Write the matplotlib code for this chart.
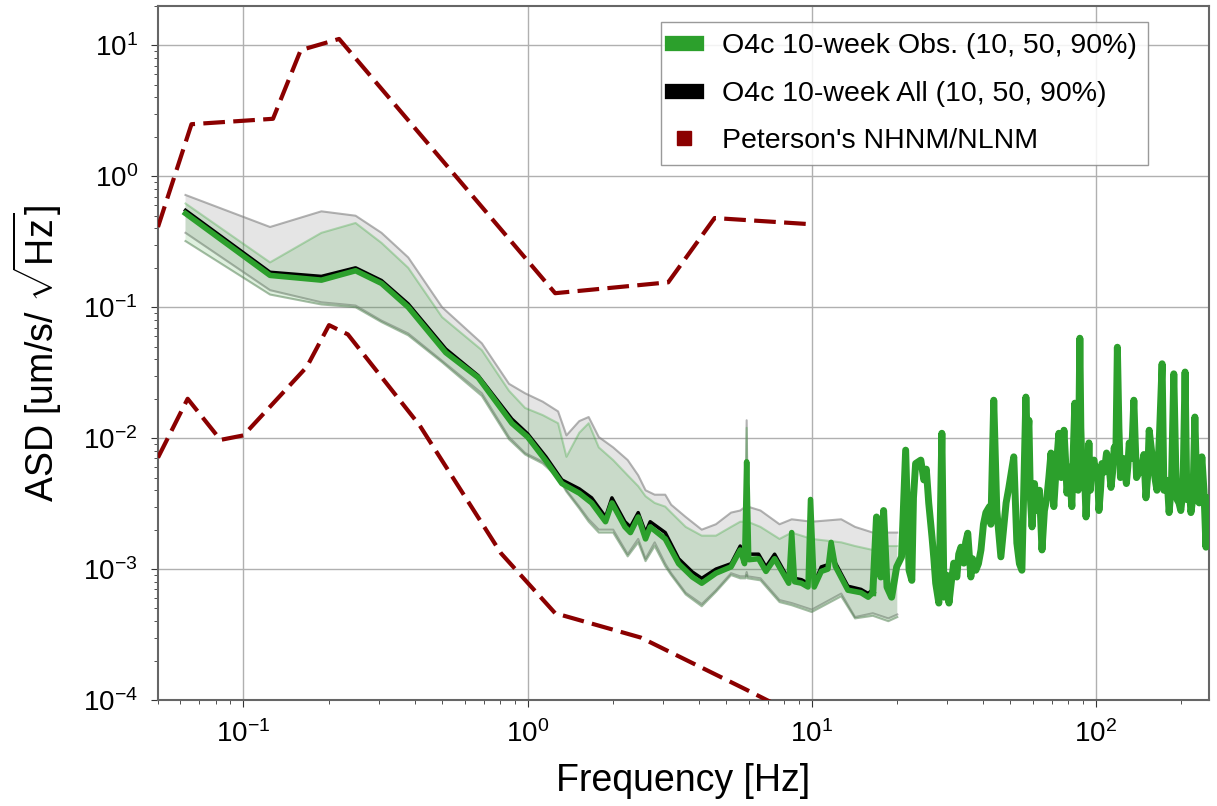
import numpy as np
import matplotlib
matplotlib.use("Agg")
from matplotlib import pyplot as plt
from matplotlib.lines import Line2D

plt.rcParams['font.family'] = ['Liberation Sans', 'DejaVu Sans']
plt.rcParams['mathtext.fontset'] = 'custom'
plt.rcParams['mathtext.rm'] = 'Liberation Sans'
plt.rcParams['mathtext.it'] = 'Liberation Sans:italic'
plt.rcParams['mathtext.bf'] = 'Liberation Sans:bold'

# Peterson noise models (velocity, um/s/rtHz)
nhnm_f = [0.05, 0.0656, 0.127, 0.159, 0.217, 1.25, 3.125, 4.55, 10.0]
nhnm_v = [0.41, 2.5, 2.75, 9.2, 11.2, 0.128, 0.155, 0.48, 0.43]
nlnm_f = [0.05, 0.0636, 0.083, 0.1, 0.167, 0.2, 0.233, 0.417, 0.806, 1.25, 2.5, 5.88, 10.0]
nlnm_v = [0.0071, 0.020, 0.0097, 0.0105, 0.035, 0.073, 0.062, 0.0125, 0.00132, 0.00046, 0.0003, 0.00012, 0.000067]

# 10% / 90% percentile bands
band_f = [0.0625, 0.124, 0.188, 0.248, 0.306, 0.38, 0.50, 0.69, 0.86, 0.98,
          1.13, 1.28, 1.37, 1.52, 1.64, 1.78, 2.0, 2.25, 2.45, 2.6,
          2.8, 3.05, 3.2, 3.6, 4.1, 4.6, 5.2, 5.6, 5.85, 5.9,
          5.95, 6.6, 7.7, 8.5, 10.0, 12.7, 14.2, 16.4, 18.6, 20.0]
all_hi = [0.72, 0.41, 0.54, 0.50, 0.37, 0.24, 0.10, 0.053, 0.026, 0.022,
          0.019, 0.016, 0.0105, 0.0135, 0.0145, 0.0102, 0.0085, 0.0068, 0.0052, 0.0040,
          0.0037, 0.0037, 0.0031, 0.0025, 0.0020, 0.0022, 0.0027, 0.0028, 0.0030, 0.0137,
          0.0030, 0.0028, 0.0022, 0.0024, 0.0023, 0.0024, 0.0021, 0.0019, 0.0019, 0.0019]
all_lo = [0.37, 0.135, 0.109, 0.103, 0.079, 0.063, 0.039, 0.022, 0.0102, 0.0077,
          0.0066, 0.0052, 0.0040, 0.0030, 0.0024, 0.0020, 0.0020, 0.0013, 0.0017, 0.0012,
          0.0016, 0.0011, 0.00093, 0.00066, 0.00054, 0.00069, 0.00093, 0.00088, 0.00088, 0.00095,
          0.00088, 0.00085, 0.00058, 0.00055, 0.00049, 0.00065, 0.00043, 0.00046, 0.00042, 0.00045]
obs_hi = [0.62, 0.22, 0.37, 0.44, 0.31, 0.20, 0.084, 0.047, 0.023, 0.017,
          0.015, 0.013, 0.0072, 0.011, 0.013, 0.0085, 0.0068, 0.0052, 0.0043, 0.0036,
          0.0032, 0.0030, 0.0027, 0.0021, 0.0018, 0.0018, 0.0021, 0.0023, 0.0023, 0.0120,
          0.0023, 0.0021, 0.0017, 0.0019, 0.0017, 0.0016, 0.0015, 0.0014, 0.0015, 0.0015]
obs_lo = [0.32, 0.125, 0.105, 0.100, 0.077, 0.061, 0.038, 0.021, 0.0098, 0.0075,
          0.0064, 0.0050, 0.0039, 0.0029, 0.0023, 0.0019, 0.0019, 0.00125, 0.0016, 0.00115,
          0.0015, 0.00105, 0.0009, 0.00064, 0.00052, 0.00067, 0.0009, 0.00085, 0.00085, 0.0009,
          0.00085, 0.00082, 0.00056, 0.00053, 0.00047, 0.00062, 0.00042, 0.00044, 0.0004, 0.00043]

# medians, below ~16 Hz (both data sets)
med_f = [0.0625, 0.124, 0.188, 0.248, 0.306, 0.38, 0.515, 0.67, 0.88, 1.0,
         1.16, 1.32, 1.52, 1.68, 1.88, 1.98, 2.2, 2.3, 2.45, 2.6,
         2.7, 3.05, 3.4, 3.8, 4.1, 4.6, 5.2, 5.6, 5.8, 5.9,
         6.0, 6.5, 6.9, 7.4, 8.3, 8.5, 8.7, 9.2, 9.7, 9.9,
         10.2, 10.8, 11.4, 11.7, 12.1, 13.4, 14.9, 15.8, 16.4]
obs_med = [0.52, 0.175, 0.161, 0.19, 0.152, 0.10, 0.045, 0.029, 0.013, 0.0102,
           0.0067, 0.0045, 0.0038, 0.0032, 0.0023, 0.0032, 0.0021, 0.0019, 0.0025, 0.0017,
           0.0021, 0.0017, 0.0011, 0.00087, 0.00078, 0.00093, 0.00104, 0.0014, 0.0011, 0.0066,
           0.00118, 0.0012, 0.00096, 0.0012, 0.00078, 0.0019, 0.0008, 0.00078, 0.00073, 0.0034,
           0.00073, 0.00096, 0.001, 0.0016, 0.00105, 0.00069, 0.00066, 0.00061, 0.00066]
all_med = [0.55, 0.185, 0.172, 0.20, 0.16, 0.106, 0.048, 0.030, 0.014, 0.0108,
           0.0072, 0.0048, 0.0041, 0.0035, 0.0025, 0.0035, 0.0023, 0.0021, 0.0027, 0.0019,
           0.0023, 0.0019, 0.0012, 0.00095, 0.00085, 0.001, 0.0011, 0.0015, 0.0012, 0.0050,
           0.0013, 0.0013, 0.00104, 0.0013, 0.00083, 0.0017, 0.00085, 0.00083, 0.00078, 0.0028,
           0.00078, 0.00104, 0.00108, 0.0015, 0.00112, 0.00074, 0.0007, 0.00065, 0.0007]

# Obs. median above ~16 Hz (dense, spiky part)
hf_f = [16.9, 17.5, 17.9, 18.4, 19.1, 19.9, 20.7, 21.4, 22.0, 22.5,
        22.8, 23.2, 24.2, 24.8, 25.3, 25.8, 26.5, 26.9, 27.3, 28.0,
        28.7, 29.2, 29.8, 30.4, 31.0, 31.6, 32.4, 32.9, 33.5, 34.3,
        34.8, 35.4, 36.3, 36.8, 37.8, 38.6, 39.4, 40.2, 41.0, 42.2,
        42.7, 43.7, 44.8, 45.5, 46.3, 47.4, 48.3, 49.4, 50.4, 51.4,
        52.7, 53.8, 54.9, 55.8, 56.7, 57.4, 58.1, 58.8, 59.6, 60.8,
        62.0, 63.3, 64.6, 65.9, 67.2, 68.3, 69.5, 70.3, 71.1, 72.5,
        74.1, 75.5, 77.2, 78.2, 79.1, 80.6, 82.3, 83.2, 84.3, 85.7,
        86.6, 87.8, 88.5, 89.3, 90.8, 92.3, 93.5, 94.5, 95.6, 96.8,
        98.5, 100, 101.2, 102.5, 103.8, 105, 107, 109, 111, 113,
        114.5, 116, 117.5, 119, 120.5, 122, 125, 128, 129.5, 131,
        133.5, 136, 137.5, 139, 142, 145, 147.5, 150, 152, 154,
        157, 160, 162, 164, 167.5, 171, 173.5, 176, 178.5, 181,
        184.5, 188, 191, 193, 196, 199, 202.5, 206, 209, 212,
        216, 219.5, 223, 227, 231, 236, 240, 244, 247, 250]
hf_v = [0.0025, 0.00087, 0.0028, 0.00073, 0.00061, 0.00104, 0.00124, 0.0081, 0.00098, 0.00082,
        0.0035, 0.0064, 0.0068, 0.0048, 0.0058, 0.0032, 0.00175, 0.0012, 0.00078, 0.00055,
        0.0109, 0.00061, 0.0009, 0.00055, 0.0008, 0.00111, 0.00087, 0.0013, 0.00147, 0.00111,
        0.0016, 0.00188, 0.00087, 0.0012, 0.00098, 0.0011, 0.0014, 0.0022, 0.0027, 0.0030,
        0.0022, 0.0195, 0.0028, 0.0019, 0.00124, 0.0021, 0.0032, 0.0042, 0.0055, 0.0072,
        0.00158, 0.0011, 0.00098, 0.0045, 0.0206, 0.0090, 0.0137, 0.0035, 0.0021, 0.0045,
        0.0028, 0.0040, 0.0014, 0.0028, 0.0035, 0.0050, 0.0077, 0.0045, 0.0030, 0.0060,
        0.0109, 0.0050, 0.0115, 0.0068, 0.0038, 0.0060, 0.0030, 0.0075, 0.0185, 0.0102,
        0.0040, 0.058, 0.012, 0.0064, 0.0070, 0.0025, 0.0045, 0.0092, 0.0040, 0.0064,
        0.0068, 0.0050, 0.0060, 0.0028, 0.0040, 0.0064, 0.0055, 0.0077, 0.0065, 0.0042,
        0.0055, 0.0085, 0.0070, 0.0495, 0.012, 0.0050, 0.0070, 0.0045, 0.0060, 0.0092,
        0.0070, 0.0195, 0.0095, 0.0050, 0.0055, 0.0060, 0.0075, 0.0035, 0.0050, 0.0115,
        0.0080, 0.0057, 0.0047, 0.0040, 0.011, 0.037, 0.0040, 0.0048, 0.0045, 0.0027,
        0.0045, 0.031, 0.0060, 0.0034, 0.0032, 0.0028, 0.0040, 0.032, 0.0034, 0.0050,
        0.0027, 0.0035, 0.0145, 0.0034, 0.0032, 0.0072, 0.0040, 0.00147, 0.0035, 0.0024]

green = '#2ca02c'

fig = plt.figure(figsize=(12.17, 8.06), dpi=100)
ax = fig.add_axes([0.1298, 0.1315, 0.8636, 0.8611])

ax.fill_between(band_f, all_lo, all_hi, facecolor='gray', alpha=0.2, zorder=2)
ax.plot(band_f, all_hi, color='gray', lw=1.5, alpha=0.6, zorder=2)
ax.plot(band_f, all_lo, color='gray', lw=1.5, alpha=0.6, zorder=2)
ax.fill_between(band_f, obs_lo, obs_hi, facecolor=green, alpha=0.15, zorder=3)
ax.plot(band_f, obs_hi, color=green, lw=1.5, alpha=0.3, zorder=3)
ax.plot(band_f, obs_lo, color='#4a7a4a', lw=1.5, alpha=0.5, zorder=3)

ax.plot(med_f, all_med, color='black', lw=2.5, zorder=4)
ax.plot(med_f, obs_med, color=green, lw=4, zorder=5)
# the dense high-frequency part looks heavier in the original
ax.plot(med_f[-1:] + hf_f, obs_med[-1:] + hf_v, color=green, lw=5, zorder=5)

ax.plot(nhnm_f, nhnm_v, color='darkred', lw=3, ls='--', dashes=(5.2, 2), zorder=6)
ax.plot(nlnm_f, nlnm_v, color='darkred', lw=3, ls='--', dashes=(5.2, 2), zorder=6)

ax.set_xscale('log')
ax.set_yscale('log')
ax.set_xlim(0.05, 250)
ax.set_ylim(1e-4, 20)
ax.grid(True, which='major', color='#b0b0b0', lw=1)
ax.set_axisbelow(True)
for s in ax.spines.values():
    s.set_color('#666666')
    s.set_linewidth(1.5)
ax.tick_params(which='both', labelsize=20, color='#333333', pad=9.5)
ax.tick_params(which='major', length=5)
ax.tick_params(which='minor', length=3)

ax.set_xlabel('Frequency [Hz]', fontsize=27, labelpad=11)
ax.set_ylabel(r'ASD [um/s/ $\sqrt{\mathrm{Hz}}$]', fontsize=27, labelpad=14)

handles = [Line2D([], [], color=green, lw=11),
           Line2D([], [], color='black', lw=11),
           Line2D([], [], color='darkred', marker='s', ms=10, ls='none')]
labels = ['O4c 10-week Obs. (10, 50, 90%)', 'O4c 10-week All (10, 50, 90%)', "Peterson's NHNM/NLNM"]
leg = ax.legend(handles, labels, loc='upper right', bbox_to_anchor=(0.942, 0.977),
                borderaxespad=0, fontsize=20.5, fancybox=False, edgecolor='#888888',
                framealpha=0.85, handlelength=0.85, handletextpad=0.9, labelspacing=0.75)

fig.savefig('out.png', dpi=100)
